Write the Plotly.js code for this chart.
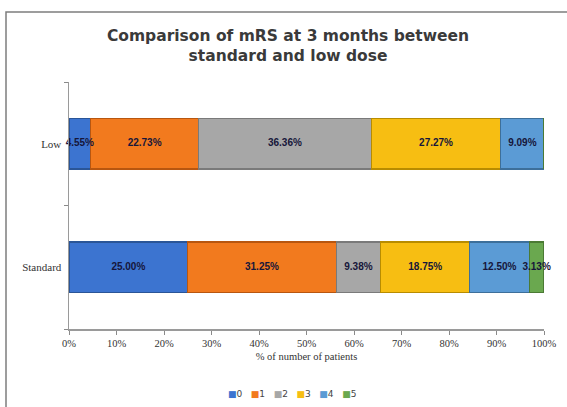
<!DOCTYPE html>
<html>
<head>
<meta charset="utf-8">
<script src="https://cdn.plot.ly/plotly-3.0.1.min.js"></script>
<style>
  html, body { margin: 0; padding: 0; background: #ffffff; }
  #chart { width: 567px; height: 407px; }
</style>
</head>
<body>
<div id="chart"></div>
<script>
// Dose groups (bottom to top on the category axis)
const groups = ['Standard', 'Low'];

// mRS score at 3 months
const mrsScores = ['0', '1', '2', '3', '4', '5'];

// Share of patients (%) for each mRS score, per dose group [Standard, Low]
const mrs0 = [25.00, 4.55];
const mrs1 = [31.25, 22.73];
const mrs2 = [9.38, 36.36];
const mrs3 = [18.75, 27.27];
const mrs4 = [12.50, 9.09];
const mrs5 = [3.13, 0.00];

const xTickVals = [0, 10, 20, 30, 40, 50, 60, 70, 80, 90, 100];

const seriesValues = [mrs0, mrs1, mrs2, mrs3, mrs4, mrs5];
const fillColors = ['#3c74d0', '#f27a1e', '#a7a7a7', '#f7be12', '#5b9bd5', '#6aa84f'];
const edgeColors = ['#2a5597', '#b8560f', '#7a7a7a', '#b88c00', '#3d6f9a', '#4b7a34'];

const barTraces = seriesValues.map((vals, i) => ({
  type: 'bar',
  orientation: 'h',
  name: mrsScores[i],
  y: groups,
  x: vals,
  marker: { color: fillColors[i], line: { color: edgeColors[i], width: 1.2 } },
  showlegend: false,
  hoverinfo: 'skip'
}));

// Value labels centred on each segment, drawn above every bar
const labelX = [], labelY = [], labelText = [];
groups.forEach((g, gi) => {
  let start = 0;
  seriesValues.forEach(vals => {
    const v = vals[gi];
    if (v > 0) {
      labelX.push(start + v / 2);
      labelY.push(g);
      labelText.push(v.toFixed(2) + '%');
    }
    start += v;
  });
});

const labelTrace = {
  type: 'scatter',
  mode: 'text',
  x: labelX,
  y: labelY,
  text: labelText,
  textposition: 'middle center',
  textfont: { family: 'Liberation Sans, Arial, sans-serif', size: 10, color: '#16163a', weight: 'bold' },
  cliponaxis: false,
  showlegend: false,
  hoverinfo: 'skip'
};

// Compact legend row under the axis title
const legendText = mrsScores.map((s, i) =>
  '<span style="color:' + fillColors[i] + '">■</span>' + s
).join('&nbsp;&nbsp;&nbsp;');

const layout = {
  width: 567,
  height: 407,
  margin: { l: 69, r: 23, t: 82, b: 78, pad: 0 },
  paper_bgcolor: '#ffffff',
  plot_bgcolor: '#ffffff',
  barmode: 'stack',
  bargap: 0.59,
  showlegend: false,
  title: {
    text: 'Comparison of mRS at 3 months between<br>standard and low dose',
    font: { family: 'DejaVu Sans, Verdana, sans-serif', size: 15.5, color: '#3a3a3a', weight: 'bold' },
    xref: 'container', x: 0.508, xanchor: 'center',
    yref: 'container', y: 1 - 41 / 407, yanchor: 'middle'
  },
  xaxis: {
    range: [0, 100],
    tickvals: xTickVals,
    ticktext: xTickVals.map(v => v + '%'),
    showgrid: false,
    zeroline: false,
    showline: true,
    linecolor: '#9a9a9a',
    linewidth: 1.5,
    ticks: 'outside',
    ticklen: 4,
    tickcolor: '#8a8a8a',
    tickfont: { family: 'Liberation Serif, Times New Roman, serif', size: 10.5, color: '#333333' },
    title: {
      text: '% of number of patients',
      font: { family: 'Liberation Serif, Times New Roman, serif', size: 10.5, color: '#333333' },
      standoff: 4
    },
    fixedrange: true
  },
  yaxis: {
    type: 'category',
    categoryorder: 'array',
    categoryarray: groups,
    showgrid: false,
    zeroline: false,
    showline: true,
    linecolor: '#9a9a9a',
    linewidth: 1.5,
    ticks: 'outside',
    tickson: 'boundaries',
    ticklen: 4,
    tickcolor: '#8a8a8a',
    ticklabelstandoff: 4,
    tickfont: { family: 'Liberation Serif, Times New Roman, serif', size: 11, color: '#333333' },
    fixedrange: true
  },
  annotations: [{
    xref: 'paper', yref: 'paper',
    x: (292 - 69) / 475, y: (329 - 394) / 247,
    xanchor: 'center', yanchor: 'middle',
    showarrow: false,
    text: legendText,
    font: { family: 'DejaVu Sans, sans-serif', size: 9, color: '#444444' }
  }],
  shapes: [
    // chart area border (left and top edges)
    {
      type: 'path', xref: 'paper', yref: 'paper',
      path: 'M ' + ((6 - 69) / 475) + ',' + ((329 - 412) / 247) +
            ' L ' + ((6 - 69) / 475) + ',' + ((329 - 12) / 247) +
            ' L ' + ((572 - 69) / 475) + ',' + ((329 - 12) / 247),
      line: { color: '#7d7d7d', width: 1.5 }
    }
  ]
};

Plotly.newPlot('chart', barTraces.concat([labelTrace]), layout, { displayModeBar: false, staticPlot: true });
</script>
</body>
</html>
